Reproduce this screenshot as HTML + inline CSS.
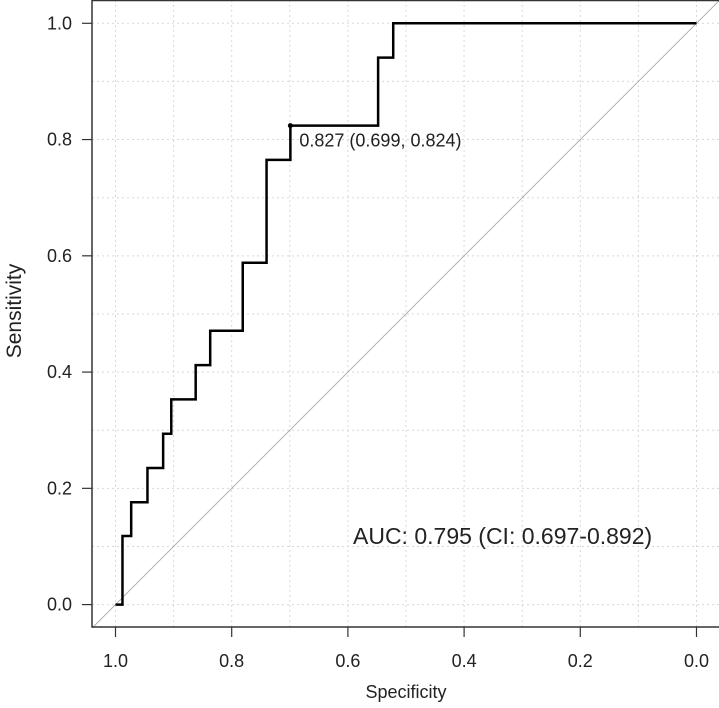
<!DOCTYPE html>
<html><head><meta charset="utf-8"><style>
body{margin:0;background:#fff;}
svg{display:block;font-family:"Liberation Sans",Arial,sans-serif;}
</style></head><body>
<svg id="chart" width="719" height="708"></svg>
<script>
const xTicks=[1.0,0.8,0.6,0.4,0.2,0.0];
const xTickLabels=["1.0","0.8","0.6","0.4","0.2","0.0"];
const yTicks=[0.0,0.2,0.4,0.6,0.8,1.0];
const yTickLabels=["0.0","0.2","0.4","0.6","0.8","1.0"];
const gridVals=[0,0.1,0.2,0.3,0.4,0.5,0.6,0.7,0.8,0.9,1.0];
const specificity=[1.0,0.988,0.973,0.945,0.918,0.904,0.862,0.837,0.781,0.740,0.699,0.548,0.522,0.0];
const sensitivity=[0.0,0.118,0.176,0.235,0.294,0.353,0.412,0.471,0.588,0.765,0.824,0.941,1.0,1.0];
const bestSpec=0.699, bestSens=0.824, bestLabel="0.827 (0.699, 0.824)";
const aucLabel="AUC: 0.795 (CI: 0.697-0.892)";

const NS="http://www.w3.org/2000/svg";
const svg=document.getElementById('chart');
const X=v=>115.5+(1-v)*581;
const Y=v=>604.6-v*581.3;
function mk(tag,attrs,parent){const e=document.createElementNS(NS,tag);for(const k in attrs)e.setAttribute(k,attrs[k]);(parent||svg).appendChild(e);return e;}

const grid=mk('g',{});


gridVals.forEach(v=>{
  mk('line',{x1:X(v),x2:X(v),y1:0,y2:627,stroke:'#d8d8d8','stroke-width':1,'stroke-dasharray':'2,3'},grid);
  mk('line',{x1:92,x2:719,y1:Y(v),y2:Y(v),stroke:'#d8d8d8','stroke-width':1,'stroke-dasharray':'2,3'},grid);
});
const diag=mk('line',{x1:X(1.04),y1:Y(-0.04),x2:X(-0.04),y2:Y(1.04),stroke:'#b0b0b0','stroke-width':1});


const axes=mk('g',{});


mk('path',{d:'M92,0 L92,627 L719,627 M92,0.5 L719,0.5',stroke:'#333','stroke-width':1.5,fill:'none'},axes);
xTicks.forEach((v,i)=>{
  mk('line',{x1:X(v),x2:X(v),y1:627,y2:637,stroke:'#333','stroke-width':1.2},axes);
  const t=mk('text',{x:X(v),y:667,'text-anchor':'middle','font-size':18,fill:'#222'},axes);
  t.textContent=xTickLabels[i];
  
  
});
yTicks.forEach((v,i)=>{
  mk('line',{x1:82,x2:92,y1:Y(v),y2:Y(v),stroke:'#333','stroke-width':1.2},axes);
  const t=mk('text',{x:72,y:Y(v)+6,'text-anchor':'end','font-size':18,fill:'#222'},axes);
  t.textContent=yTickLabels[i];
  
  
});
const xt=mk('text',{x:406,y:698,'text-anchor':'middle','font-size':18,fill:'#222'});
xt.textContent='Specificity';


const yt=mk('text',{x:0,y:0,'text-anchor':'middle','font-size':21,fill:'#222',transform:'translate(21,311) rotate(-90)'});
yt.textContent='Sensitivity';


let d='M'+X(specificity[0])+','+Y(sensitivity[0]);
for(let i=1;i<specificity.length;i++){
  d+=' L'+X(specificity[i])+','+Y(sensitivity[i-1])+' L'+X(specificity[i])+','+Y(sensitivity[i]);
}
const roc=mk('path',{d:d,stroke:'#000','stroke-width':2.5,fill:'none'});


const pt=mk('circle',{cx:X(bestSpec),cy:Y(bestSens),r:2.5,fill:'#000'});


const bl=mk('text',{x:X(bestSpec)+9,y:Y(bestSens)+21,'font-size':18,fill:'#222'});
bl.textContent=bestLabel;


const al=mk('text',{x:353,y:544,'font-size':23,fill:'#222'});
al.textContent=aucLabel;


</script>
</body></html>
